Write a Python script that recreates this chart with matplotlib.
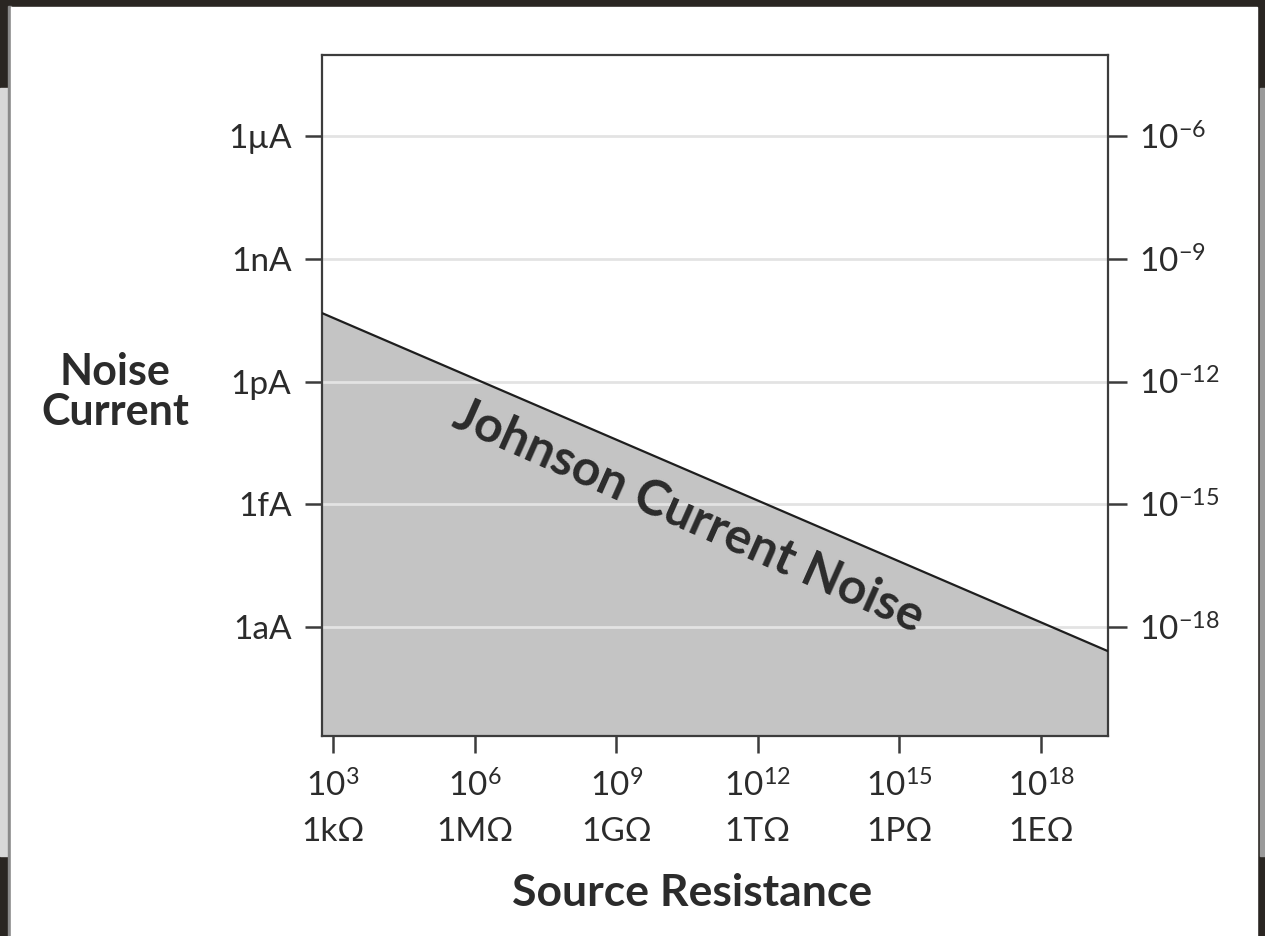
import matplotlib
matplotlib.use("Agg")
import matplotlib.pyplot as plt
from matplotlib.patches import Rectangle
from matplotlib.ticker import NullLocator

plt.rcParams['font.family'] = ['Lato', 'DejaVu Sans']
plt.rcParams['mathtext.fontset'] = 'custom'
plt.rcParams['mathtext.rm'] = 'Lato'
plt.rcParams['mathtext.it'] = 'Lato:italic'
plt.rcParams['mathtext.bf'] = 'Lato:bold'

# --- data ---
resistance = [5.9e2, 2.6e19]          # ohms, at the left/right edges of the plot
noise_current = [4.7e-11, 2.6e-19]    # amps

x_ticks = [1e3, 1e6, 1e9, 1e12, 1e15, 1e18]
x_exp = ["3", "6", "9", "12", "15", "18"]
x_names = ["1kΩ", "1MΩ", "1GΩ", "1TΩ", "1PΩ", "1EΩ"]

y_ticks = [1e-6, 1e-9, 1e-12, 1e-15, 1e-18]
y_names = ["1µA", "1nA", "1pA", "1fA", "1aA"]
y_exp = ["-6", "-9", "-12", "-15", "-18"]

x_limits = (10 ** 2.767, 10 ** 19.42)
y_limits = (10 ** -20.66, 10 ** -4.02)

ink = '#2b2b2b'
W, H = 1265, 936

fig = plt.figure(figsize=(12.65, 9.36), dpi=100, facecolor='#2a2622')

# photo-like frame around the white card
def px_rect(x0, y0, x1, y1, color):
    fig.patches.append(Rectangle((x0 / W, 1 - y1 / H), (x1 - x0) / W, (y1 - y0) / H,
                                 transform=fig.transFigure, color=color, zorder=-10))

px_rect(0, 88, 8, 856, '#d8d8d8')
px_rect(1260, 88, 1265, 856, '#9a9a9a')
px_rect(8, 6, 11, 936, '#8a8a8a')
px_rect(11, 7, 1257, 936, 'white')

ax = fig.add_axes([322 / W, 1 - 736 / H, 786 / W, 681 / H])
ax.set_xscale('log')
ax.set_yscale('log')
ax.set_xlim(*x_limits)
ax.set_ylim(*y_limits)

# shaded region under the noise line
ax.fill_between(resistance, noise_current, y_limits[0], color='#c4c4c4', lw=0, zorder=1)
for yt in y_ticks:
    ax.axhline(yt, color='#e3e3e3', lw=2, zorder=2)
ax.plot(resistance, noise_current, color='#1e1e1e', lw=1.6, zorder=3)

for s in ax.spines.values():
    s.set_linewidth(1.6)
    s.set_color('#3c3c3c')

ax.set_xticks(x_ticks)
ax.set_xticklabels([f"$\\mathregular{{10^{{{e}}}}}$\n{n}" for e, n in zip(x_exp, x_names)],
                   linespacing=1.6)
ax.set_yticks(y_ticks)
ax.set_yticklabels(y_names)
ax.xaxis.set_minor_locator(NullLocator())
ax.yaxis.set_minor_locator(NullLocator())
ax.tick_params(axis='both', which='major', length=12, width=1.8, color='#3c3c3c',
               labelsize=24, labelcolor=ink)
ax.tick_params(axis='x', pad=12)
ax.tick_params(axis='y', pad=10)

ax2 = ax.twinx()
ax2.set_yscale('log')
ax2.set_ylim(*y_limits)
ax2.set_yticks(y_ticks)
ax2.set_yticklabels([f"$\\mathregular{{10^{{{e}}}}}$" for e in y_exp])
ax2.yaxis.set_minor_locator(NullLocator())
ax2.tick_params(axis='y', which='major', length=14, width=1.8, color='#3c3c3c',
                labelsize=24, labelcolor=ink, pad=8)
for s in ax2.spines.values():
    s.set_visible(False)

ax.text(0.467, 0.322, "Johnson Current Noise", transform=ax.transAxes,
        rotation=-24, rotation_mode='anchor', ha='center', va='center',
        fontsize=36, fontweight='bold', color=ink, zorder=4)

fig.text(115 / W, 1 - 392 / H, "Noise\nCurrent", ha='center', va='center',
         fontsize=31, fontweight='bold', color=ink, linespacing=1.0)
fig.text(692 / W, 1 - 893 / H, "Source Resistance", ha='center', va='center',
         fontsize=32, fontweight='bold', color=ink)

fig.savefig("out.png", dpi=100, facecolor=fig.get_facecolor())
